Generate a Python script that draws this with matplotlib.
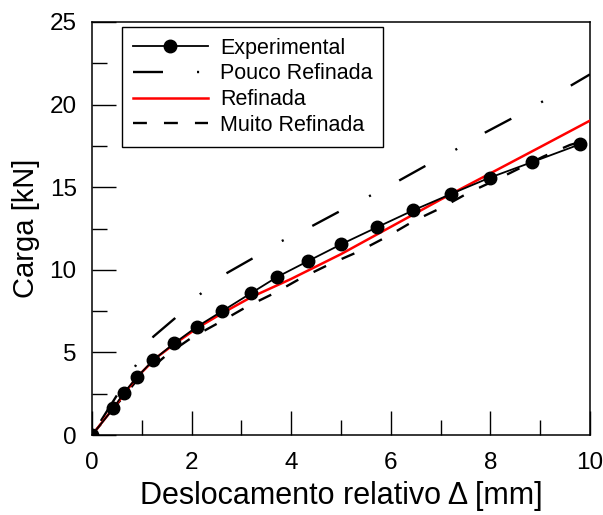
import numpy as np
import matplotlib
matplotlib.use("Agg")
import matplotlib.pyplot as plt
from matplotlib.lines import Line2D
from matplotlib.ticker import MultipleLocator

plt.rcParams['font.family'] = ['Liberation Sans', 'DejaVu Sans']
plt.rcParams['lines.scale_dashes'] = False

# Dados
exp_x = [0.0, 0.43, 0.64, 0.91, 1.23, 1.65, 2.10, 2.62, 3.19, 3.72, 4.34, 5.00,
         5.72, 6.45, 7.21, 7.99, 8.83, 9.80]
exp_y = [0.0, 1.61, 2.56, 3.52, 4.54, 5.55, 6.54, 7.51, 8.58, 9.57, 10.53, 11.54,
         12.57, 13.60, 14.59, 15.58, 16.51, 17.60]

pouco_x = [0.0, 0.68, 1.04, 1.23, 1.67, 2.17, 2.70, 3.23, 3.81, 4.42, 4.96, 5.55,
           6.16, 6.69, 7.29, 7.89, 8.41, 9.02, 9.61, 10.0]
pouco_y = [0.0, 3.27, 4.98, 5.95, 7.08, 8.52, 9.79, 10.70, 11.74, 12.65, 13.52, 14.43,
           15.39, 16.28, 17.25, 18.30, 19.13, 20.14, 21.14, 21.83]

ref_x = [0.0, 0.5, 0.9, 1.3, 1.65, 2.1, 2.6, 3.2, 4.0, 5.0, 6.0, 7.0, 7.2, 8.0, 9.0, 10.0]
ref_y = [0.0, 1.9, 3.5, 4.7, 5.5, 6.45, 7.35, 8.35, 9.45, 10.95, 12.6, 14.25, 14.57,
         15.84, 17.43, 19.03]

muito_x = [0.0, 0.5, 0.9, 1.5, 2.0, 2.56, 3.11, 3.67, 4.2, 4.78, 5.35, 5.92, 6.47,
           7.02, 7.57, 8.12, 9.06, 9.6, 10.0]
muito_y = [0.0, 1.85, 3.3, 4.85, 5.89, 6.82, 7.77, 8.6, 9.5, 10.35, 11.1, 12.0, 12.97,
           13.76, 14.68, 15.45, 16.85, 17.56, 17.9]

traco_ponto = (21.6, 24.5, 1.5, 23.0)

fig = plt.figure(figsize=(6.03, 5.15), dpi=100)
ax = fig.add_axes([0.1526, 0.1553, 0.8258, 0.802])

l1, = ax.plot(exp_x, exp_y, color='black', lw=1.3, marker='o', ms=9,
              label='Experimental', zorder=5)
ax.plot(pouco_x, pouco_y, color='black', lw=1.7, linestyle=(58.6, traco_ponto),
        zorder=3)
l3, = ax.plot(ref_x, ref_y, color='red', lw=1.8, label='Refinada', zorder=4)
l4, = ax.plot(muito_x, muito_y, color='black', lw=1.7, dashes=(10, 12.3),
              label='Muito Refinada', zorder=3)
# linha só para a legenda (padrão começando do início)
l2 = Line2D([], [], color='black', lw=1.7, linestyle=(0, traco_ponto),
            label='Pouco Refinada')

ax.set_xlim(0, 10)
ax.set_ylim(0, 25)
ax.xaxis.set_major_locator(MultipleLocator(2))
ax.xaxis.set_minor_locator(MultipleLocator(1))
ax.yaxis.set_major_locator(MultipleLocator(5))
ax.yaxis.set_minor_locator(MultipleLocator(2.5))
ax.tick_params(which='both', direction='in', top=False, right=False,
               labelsize=17.5, width=1.0)
ax.tick_params(which='major', length=17.5)
ax.tick_params(which='minor', length=11)
ax.tick_params(axis='y', pad=11)
ax.tick_params(axis='x', pad=12)
for s in ax.spines.values():
    s.set_linewidth(1.1)

ax.set_xlabel('Deslocamento relativo Δ [mm]', fontsize=22, labelpad=5.5)
ax.set_ylabel('Carga [kN]', fontsize=21, labelpad=7)

leg = ax.legend(handles=[l1, l2, l3, l4], loc='upper left',
                bbox_to_anchor=(0.06, 0.988), borderaxespad=0,
                fontsize=15.5, handlelength=3.5, handletextpad=0.55,
                labelspacing=0.22, fancybox=False, framealpha=1,
                edgecolor='black', borderpad=0.5)
leg.get_frame().set_linewidth(1.0)

fig.savefig('out.png', dpi=100)
